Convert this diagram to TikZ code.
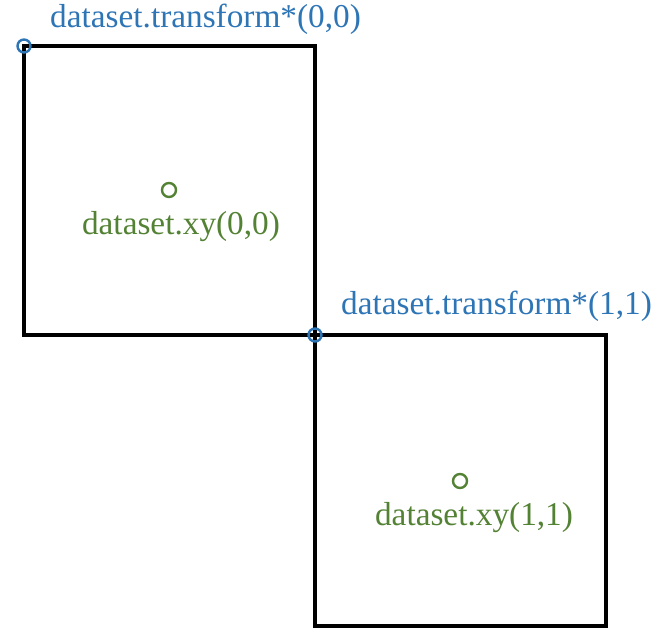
\documentclass[tikz,border=0pt]{standalone}
\usepackage{fontspec}
\setmainfont{Liberation Serif}
\usetikzlibrary{positioning}
\definecolor{tfblue}{HTML}{2E75B6}
\definecolor{xygreen}{HTML}{548235}

\begin{document}
\begin{tikzpicture}[x = 1pt, y = -1pt]
	\tikzstyle{cellStyle} = [draw, line width = 3.2pt]
	\tikzstyle{cornerStyle} = [shape = circle, minimum size = 13pt, inner sep = 0pt, draw = tfblue, line width = 2.4pt]
	\tikzstyle{centerStyle} = [shape = circle, minimum size = 14pt, inner sep = 0pt, draw = xygreen, line width = 2.4pt]
	\tikzstyle{tfLabel} = [text = tfblue, inner sep = 0pt, anchor = base west, font = \fontsize{33.3}{38}\selectfont]
	\tikzstyle{xyLabel} = [text = xygreen, inner sep = 0pt, anchor = base, font = \fontsize{33.3}{38}\selectfont]
	\useasboundingbox (0, 0) rectangle (663, 642);
	% cell corners
	\coordinate (c00) at (24, 46);
	\coordinate (c11) at (315, 335);
	\coordinate (c22) at (606, 626);
	\draw[cellStyle] (c00) rectangle (c11);
	\draw[cellStyle] (c11) rectangle (c22);
	% markers
	\node[cornerStyle] (t0) at (c00) {};
	\node[cornerStyle] (t1) at (c11) {};
	\node[centerStyle] (x0) at (169, 190) {};
	\node[centerStyle] (x1) at (460, 481) {};
	% labels
	\node[tfLabel] (lt0) at (50, 28) {dataset.transform*(0,0)};
	\node[tfLabel] (lt1) at (341, 314) {dataset.transform*(1,1)};
	\node[xyLabel] (lx0) at (181, 234) {dataset.xy(0,0)};
	\node[xyLabel] (lx1) at (474, 525) {dataset.xy(1,1)};
\end{tikzpicture}
\end{document}
